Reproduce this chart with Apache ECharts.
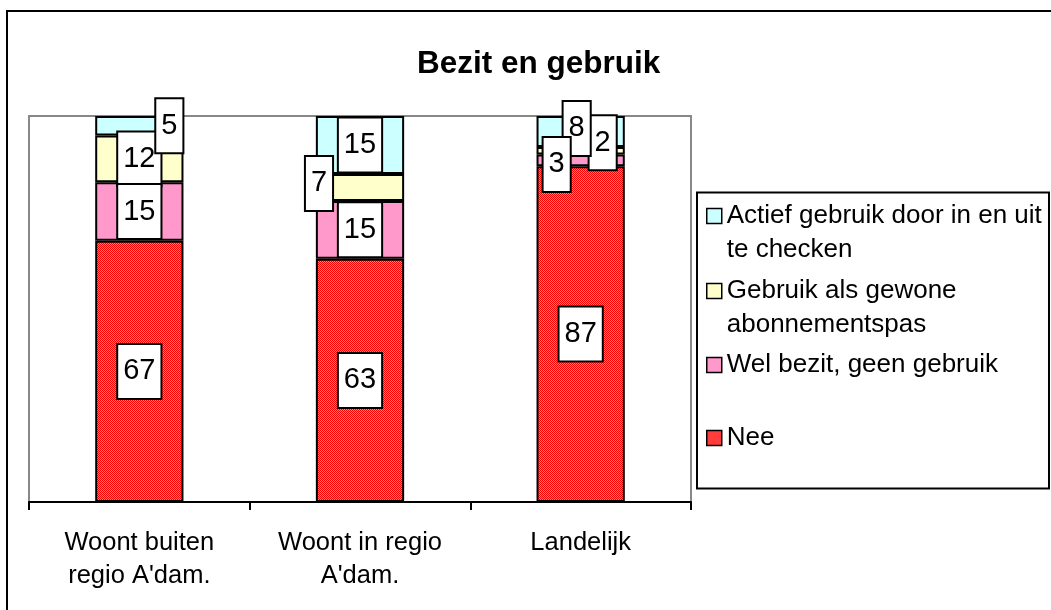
<!DOCTYPE html>
<html>
<head>
<meta charset="utf-8">
<script src="https://cdn.jsdelivr.net/npm/echarts@6/dist/echarts.min.js"></script>
<style>
html,body{margin:0;padding:0;background:#fff;}
#chart{width:1051px;height:610px;}
</style>
</head>
<body>
<div id="chart"></div>
<script>
// ---- data ----
const categories = ["Woont buiten\nregio A'dam.", "Woont in regio\nA'dam.", "Landelijk"];
const seriesNames = ["Nee", "Wel bezit, geen gebruik", "Gebruik als gewone abonnementspas", "Actief gebruik door in en uit te checken"];
const nee = [67, 63, 87];
const welBezit = [15, 15, 3];
const gewonePas = [12, 7, 2];
const actief = [5, 15, 8];
const title = "Bezit en gebruik";

// ---- styles ----
const FONT = "'Liberation Sans', Arial, sans-serif";
const valueSets = [nee, welBezit, gewonePas, actief];
const totals = categories.map((c, i) => valueSets.reduce((s, arr) => s + arr[i], 0));

function makePattern() {
  const c = document.createElement('canvas');
  c.width = 2; c.height = 2;
  const ctx = c.getContext('2d');
  ctx.fillStyle = '#ff0000'; ctx.fillRect(0, 0, 2, 2);
  ctx.fillStyle = '#ff7a7a'; ctx.fillRect(1, 0, 1, 1); ctx.fillRect(0, 1, 1, 1);
  return c;
}
const colors = [{ image: makePattern(), repeat: 'repeat' }, '#ff99cc', '#ffffcc', '#ccffff'];

// label offsets (display style, per series / category)
const labelOffsets = [
  [[0, 0], [0, 0], [0, 0]],
  [[0, 0], [0, 0], [-24, 4]],
  [[0, 0], [-41, -4], [22, -8]],
  [[30, 0], [0, 0], [-4, -3]]
];
const labelZ = [10, 13, 11, 12];

const barSeries = valueSets.map((arr, si) => ({
  name: seriesNames[si],
  type: 'bar',
  stack: 'total',
  barWidth: '40%',
  barGap: '-100%',
  z: 2,
  itemStyle: { color: colors[si], borderColor: '#000', borderWidth: 2 },
  data: arr.map((v, ci) => v / totals[ci] * 100),
  label: { show: false },
  emphasis: { disabled: true }
}));

const labelSeries = valueSets.map((arr, si) => ({
  name: seriesNames[si] + ' (label)',
  type: 'bar',
  stack: 'labels',
  barWidth: '40%',
  barGap: '-100%',
  z: labelZ[si],
  silent: true,
  itemStyle: { color: 'rgba(0,0,0,0)', borderWidth: 0 },
  data: arr.map((v, ci) => ({
    value: v / totals[ci] * 100,
    label: { offset: labelOffsets[si][ci] }
  })),
  label: {
    show: true,
    position: 'inside',
    formatter: p => String(arr[p.dataIndex]),
    fontFamily: FONT,
    fontSize: 29,
    lineHeight: 31,
    color: '#000',
    backgroundColor: '#fff',
    borderColor: '#000',
    borderWidth: 2,
    padding: [11, 5, 11, 5]
  },
  emphasis: { disabled: true }
}));

// legends (one per entry, placed top-to-bottom in reverse stack order)
const legendSpec = [
  { name: seriesNames[3], text: '\nActief gebruik door in en uit\nte checken', center: 216, lines: 2 },
  { name: seriesNames[2], text: '\nGebruik als gewone\nabonnementspas', center: 291, lines: 2 },
  { name: seriesNames[1], text: 'Wel bezit, geen gebruik', center: 365, lines: 1 },
  { name: seriesNames[0], text: 'Nee', center: 438, lines: 1 }
];
const LH = 34;
const legends = legendSpec.map(l => ({
  show: true,
  orient: 'vertical',
  left: 706,
  top: l.lines === 2 ? l.center - LH * 1.5 : l.center - LH / 2,
  padding: 0,
  itemWidth: 15,
  itemHeight: 15,
  icon: 'rect',
  selectedMode: false,
  data: [l.name],
  formatter: () => l.text,
  itemStyle: { borderColor: '#000', borderWidth: 1.5 },
  textStyle: {
    fontFamily: FONT,
    fontSize: 26,
    lineHeight: LH,
    color: '#000'
  }
}));

const chart = echarts.init(document.getElementById('chart'), null, { renderer: 'canvas' });
chart.setOption({
  animation: false,
  backgroundColor: '#fff',
  title: {
    text: title,
    left: 417,
    top: 48,
    padding: 0,
    textStyle: { fontFamily: FONT, fontSize: 31.5, fontWeight: 'bold', color: '#000', lineHeight: 33 }
  },
  graphic: [
    { type: 'rect', z: -10, shape: { x: 7, y: 11, width: 1100, height: 700 }, style: { fill: '#fff', stroke: '#000', lineWidth: 2 } },
    { type: 'rect', z: -5, shape: { x: 697, y: 192.5, width: 352, height: 296 }, style: { fill: '#fff', stroke: '#000', lineWidth: 2 } }
  ],
  legend: legends,
  grid: {
    left: 29, right: 360, top: 116, bottom: 108,
    show: true, borderColor: '#888', borderWidth: 2, backgroundColor: 'transparent',
    containLabel: false
  },
  xAxis: {
    type: 'category',
    data: categories,
    axisLine: { lineStyle: { color: '#000', width: 2 } },
    axisTick: { show: true, length: 8, lineStyle: { color: '#000', width: 2 } },
    axisLabel: { fontFamily: FONT, fontSize: 25.5, lineHeight: 33, color: '#000', margin: 24, interval: 0 },
    splitLine: { show: false }
  },
  yAxis: {
    type: 'value',
    min: 0, max: 100, interval: 20,
    axisLine: { show: false },
    axisTick: { show: false },
    axisLabel: { show: false },
    splitLine: { show: false }
  },
  series: barSeries.concat(labelSeries)
});
</script>
</body>
</html>
